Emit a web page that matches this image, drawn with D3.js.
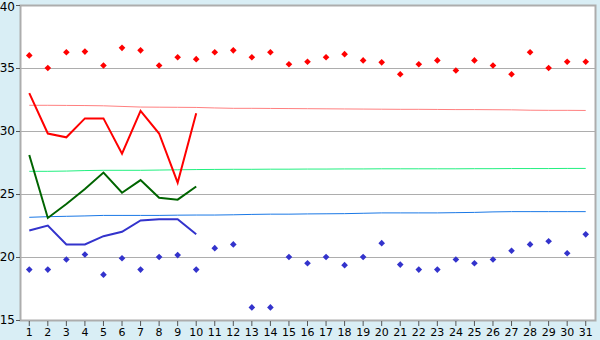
<!DOCTYPE html>
<html>
<head>
<meta charset="utf-8">
<script src="https://cdn.jsdelivr.net/npm/d3@7"></script>
<style>
body { margin:0; background:#d9eef5; }
svg { display:block; }
text { font-family: Verdana, "DejaVu Sans", sans-serif; fill:#000; }
</style>
</head>
<body>
<svg id="chart"></svg>
<script>
// categories 1..31
var days = [1,2,3,4,5,6,7,8,9,10,11,12,13,14,15,16,17,18,19,20,21,22,23,24,25,26,27,28,29,30,31];

// scattered markers
var redDots = [36.0,35.0,36.25,36.3,35.2,36.6,36.4,35.2,35.85,35.7,36.25,36.4,35.85,36.25,35.3,35.5,35.85,36.1,35.6,35.45,34.5,35.3,35.6,34.8,35.6,35.2,34.5,36.25,35.0,35.5,35.5];
var blueDots = [19.0,19.0,19.8,20.2,18.6,19.9,19.0,20.0,20.15,19.0,20.7,21.0,16.0,16.0,20.0,19.5,20.0,19.35,20.0,21.1,19.4,19.0,19.0,19.8,19.5,19.8,20.5,21.0,21.25,20.3,21.8];

// thick lines, first 10 days
var redLine = [33.0,29.8,29.5,31.0,31.0,28.2,31.6,29.8,25.9,31.4];
var greenLine = [28.1,23.1,24.2,25.4,26.7,25.1,26.1,24.7,24.55,25.6];
var blueLine = [22.1,22.5,21.0,21.0,21.65,22.0,22.9,23.0,23.0,21.8];

// thin reference lines
var pinkRef = [32.04,32.04,32.03,32.02,32.0,31.95,31.9,31.89,31.88,31.87,31.83,31.8,31.8,31.79,31.78,31.77,31.76,31.75,31.74,31.73,31.72,31.72,31.71,31.7,31.7,31.69,31.68,31.65,31.64,31.64,31.63];
var greenRef = [26.8,26.8,26.82,26.86,26.88,26.88,26.88,26.9,26.92,26.94,26.95,26.96,26.96,26.97,26.97,26.98,26.98,26.99,26.99,27.0,27.0,27.0,27.0,27.0,27.01,27.01,27.02,27.02,27.02,27.03,27.03];
var blueRef = [23.15,23.2,23.23,23.26,23.3,23.3,23.3,23.3,23.32,23.33,23.33,23.35,23.38,23.4,23.4,23.42,23.43,23.44,23.47,23.5,23.5,23.5,23.5,23.52,23.54,23.58,23.6,23.6,23.6,23.6,23.6];

var yTicks = [15,20,25,30,35,40];

var drawChart = function()
{
    var screen = {width:600,height:340};
    var plot = {left:20,right:595,top:5,bottom:320};

    var svg = d3.select("#chart")
        .attr("width",screen.width)
        .attr("height",screen.height);

    var xScale = d3.scaleBand()
        .domain(days)
        .range([plot.left,plot.right]);
    var xc = function(d) { return xScale(d) + xScale.bandwidth()/2; };

    var yScale = d3.scaleLinear()
        .domain([15,40])
        .range([plot.bottom,plot.top]);

    // plot background
    svg.append("rect")
        .attr("x",plot.left)
        .attr("y",plot.top)
        .attr("width",plot.right-plot.left)
        .attr("height",plot.bottom-plot.top)
        .attr("fill","white");

    // gridlines
    svg.append("g")
        .selectAll("line")
        .data(yTicks.slice(1,-1))
        .enter()
        .append("line")
        .attr("x1",plot.left)
        .attr("x2",plot.right)
        .attr("y1",function(d){ return Math.round(yScale(d))+0.5; })
        .attr("y2",function(d){ return Math.round(yScale(d))+0.5; })
        .attr("stroke","#adadad");

    // border
    svg.append("rect")
        .attr("x",plot.left+0.5)
        .attr("y",plot.top+0.5)
        .attr("width",plot.right-plot.left)
        .attr("height",plot.bottom-plot.top)
        .attr("fill","none")
        .attr("stroke","#adadad")
        .attr("stroke-width",2);

    // axes
    var yAxis = d3.axisLeft(yScale).tickValues(yTicks).tickSize(4).tickPadding(1);
    var gy = svg.append("g")
        .attr("transform","translate("+plot.left+",0)")
        .call(yAxis);
    gy.select(".domain").remove();
    gy.selectAll("line").attr("stroke","#555");
    gy.selectAll("text")
        .style("font-size","12px")
        .attr("fill","#000")
        .attr("dy",function(d){ return d==40 ? "0.45em" : "0.32em"; });

    var xAxis = d3.axisBottom(xScale).tickSize(5).tickPadding(2);
    var gx = svg.append("g")
        .attr("transform","translate(0,"+(plot.bottom+1)+")")
        .call(xAxis);
    gx.select(".domain").remove();
    gx.selectAll("line").attr("stroke","#555");
    gx.selectAll("text").style("font-size","11px").attr("fill","#000");

    // thin reference lines
    var line = function(vals) {
        return d3.line()
            .x(function(v,i){ return xc(days[i]); })
            .y(function(v){ return yScale(v); })(vals);
    };
    svg.append("path").attr("d",line(pinkRef)).attr("fill","none").attr("stroke","#ff8080").attr("stroke-width",1);
    svg.append("path").attr("d",line(greenRef)).attr("fill","none").attr("stroke","#22f080").attr("stroke-width",1);
    svg.append("path").attr("d",line(blueRef)).attr("fill","none").attr("stroke","#1a78e6").attr("stroke-width",1);

    // thick lines
    svg.append("path").attr("d",line(redLine)).attr("fill","none").attr("stroke","#ff0000").attr("stroke-width",2);
    svg.append("path").attr("d",line(greenLine)).attr("fill","none").attr("stroke","#006400").attr("stroke-width",2);
    svg.append("path").attr("d",line(blueLine)).attr("fill","none").attr("stroke","#3333cc").attr("stroke-width",2);

    // markers: small rotated squares
    var marker = d3.symbol().type(d3.symbolSquare).size(22);
    var drawDots = function(vals, color) {
        svg.append("g")
            .selectAll("path")
            .data(vals)
            .enter()
            .append("path")
            .attr("d",marker)
            .attr("transform",function(v,i){ return "translate("+xc(days[i])+","+yScale(v)+") rotate(45)"; })
            .attr("fill",color);
    };
    drawDots(redDots,"#ff0000");
    drawDots(blueDots,"#3333cc");
};

drawChart();
</script>
</body>
</html>
